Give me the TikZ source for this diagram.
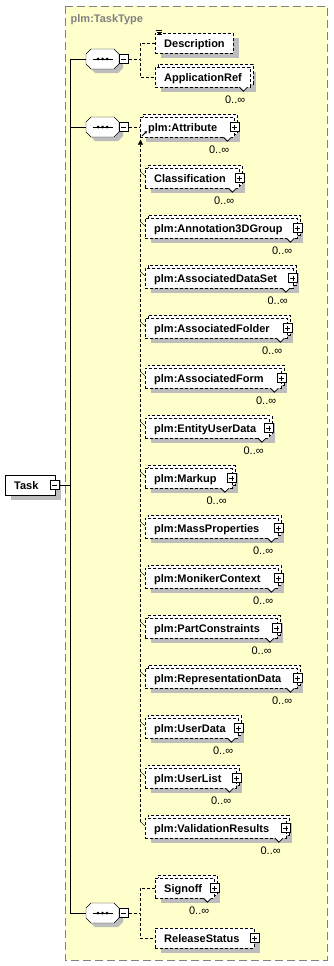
\documentclass[tikz,border=0pt]{standalone}
\usepackage{fontspec}
\setmainfont{Liberation Sans}
\usetikzlibrary{shadows, arrows.meta}
\definecolor{typeyellow}{HTML}{FFFFCC}
\definecolor{shadowgray}{HTML}{BDBDBD}
\definecolor{framegray}{HTML}{808080}
\newcommand{\elemfont}{\fontsize{11}{13}\selectfont\bfseries}
\hyphenpenalty=10000
\exhyphenpenalty=10000
\pgfdeclarelayer{bg}
\pgfdeclarelayer{shadows}
\pgfsetlayers{bg,shadows,main}

\begin{document}
\begin{tikzpicture}[
    x=1pt, y=-1pt, line width=1pt,
    elem/.style={draw, fill=white, dash pattern=on 3pt off 2pt, anchor=west, minimum height=20pt,
        inner xsep=9pt, inner ysep=0pt, text height=9pt, text depth=0pt, align=left, font=\elemfont},
    many/.style={copy shadow={shadow xshift=3pt, shadow yshift=3pt, draw=black, fill=white, dash pattern=on 3pt off 2pt}},
    taskbox/.style={draw, fill=white, anchor=west, minimum height=20pt, inner xsep=9pt, inner ysep=0pt,
        text height=9pt, text depth=0pt, align=left, font=\elemfont},
    seq/.style={rectangle, minimum width=33pt, minimum height=20pt, inner sep=0pt},
    minusbox/.style={draw, solid, fill=white, minimum size=9pt, inner sep=0pt,
        path picture={\draw ([xshift=2pt]path picture bounding box.west) -- ([xshift=-2pt]path picture bounding box.east);}},
    plusbox/.style={draw, solid, fill=white, minimum size=9pt, inner sep=0pt,
        path picture={
            \draw ([xshift=2pt]path picture bounding box.west) -- ([xshift=-2pt]path picture bounding box.east);
            \draw ([yshift=2pt]path picture bounding box.south) -- ([yshift=-2pt]path picture bounding box.north);}},
    mult/.style={font=\fontsize{11}{13}\selectfont, anchor=east, inner sep=0pt, text height=7pt, text depth=0pt},
    notch/.style={draw, fill=white, line width=0.8pt},
    link/.style={dash pattern=on 3pt off 2pt},
    typebox/.style={draw=framegray, fill=typeyellow, dash pattern=on 8pt off 4pt},
    title/.style={font=\elemfont, text=framegray, anchor=base west, inner sep=0pt}
]
\useasboundingbox (0,0) rectangle (333,966);

% complex type frame
\begin{pgfonlayer}{bg}
\draw[typebox] (65,6) rectangle (327,960);
\end{pgfonlayer}
\node[title] (typename) at (70.5,23) {plm:TaskType};

% root element
\node[taskbox, text width=31.5pt] (task) at (5,485) {Task};
\node[minusbox] (task-minus) at (task.east) {};

% compositors
\node[seq] (seq1) at (102.5,59) {};
\node[seq] (seq2) at (102.5,127) {};
\node[seq] (seq3) at (102.5,913) {};
\foreach \s in {seq1, seq2, seq3} {
    \begin{pgfonlayer}{shadows}
    \fill[shadowgray, shift={(\s.center)}, shift={(4,4)}]
        (-11.5,-10) -- (11.5,-10) -- (16.5,-5) -- (16.5,5) -- (11.5,10) -- (-11.5,10) -- (-16.5,5) -- (-16.5,-5) -- cycle;
    \end{pgfonlayer}
    \draw[fill=white, shift={(\s.center)}]
        (-11.5,-10) -- (11.5,-10) -- (16.5,-5) -- (16.5,5) -- (11.5,10) -- (-11.5,10) -- (-16.5,5) -- (-16.5,-5) -- cycle;
    \draw[shift={(\s.center)}] (-10,0) -- (10,0);
    \foreach \d in {-4.5,0,4.5} \fill[shift={(\s.center)}] (\d,0) circle[radius=1.5];
    \node[minusbox, anchor=west] (\s-minus) at (\s.east) {};
}

% first sequence
\node[elem, text width=60pt] (desc) at (155,43) {Description};
\node[elem, many, text width=77pt] (appref) at (155,77) {ApplicationRef};

% substitution group
\node[elem, many, inner xsep=8pt, text width=78pt] (attr) at (140,127) {plm:Attribute};
\node[elem, many, text width=76pt] (classif) at (145,178) {Classification};
\node[elem, many, text width=134pt] (anno) at (145,228) {plm:Annotation3DGroup};
\node[elem, many, text width=129.5pt] (dataset) at (145,278) {plm:AssociatedDataSet};
\node[elem, many, text width=124pt] (folder) at (145,328) {plm:AssociatedFolder};
\node[elem, many, text width=118pt] (form) at (145,378) {plm:AssociatedForm};
\node[elem, many, text width=105.5pt] (entity) at (145,428) {plm:EntityUserData};
\node[elem, many, text width=68.5pt] (markup) at (145,478) {plm:Markup};
\node[elem, many, text width=115pt] (mass) at (145,528) {plm:MassProperties};
\node[elem, many, text width=115pt] (moniker) at (145,578) {plm:MonikerContext};
\node[elem, many, text width=113.5pt] (partc) at (145,628) {plm:PartConstraints};
\node[elem, many, text width=134pt] (repr) at (145,678) {plm:RepresentationData};
\node[elem, many, text width=75pt] (userdata) at (145,728) {plm:UserData};
\node[elem, many, text width=73pt] (userlist) at (145,778) {plm:UserList};
\node[elem, many, text width=122.5pt] (valid) at (145,828) {plm:ValidationResults};

% last sequence
\node[elem, many, text width=41pt] (signoff) at (155,888) {Signoff};
\node[elem, text width=81pt] (release) at (155,938) {ReleaseStatus};

% drop shadows
\begin{pgfonlayer}{shadows}
\foreach \n in {task, desc, appref, attr, classif, anno, dataset, folder, form, entity, markup, mass,
                moniker, partc, repr, userdata, userlist, valid, signoff, release}
    \fill[shadowgray] ([xshift=6pt, yshift=-5pt]\n.north west) rectangle ([xshift=6pt, yshift=-5pt]\n.south east);
\end{pgfonlayer}

% occurrence marks
\foreach \n in {appref, attr, classif, anno, dataset, folder, form, entity, markup, mass,
                moniker, partc, repr, userdata, userlist, valid, signoff} {
    \draw[notch] ([xshift=-11pt]\n.south east) -- ++(4,4) -- ++(4,-4);
    \node[mult] (\n-mult) at ([xshift=-5pt, yshift=-13pt]\n.south east) {0..∞};
}
\foreach \n in {attr, classif, anno, dataset, folder, form, entity, markup, mass,
                moniker, partc, repr, userdata, userlist, valid, signoff, release}
    \node[plusbox] (\n-plus) at (\n.east) {};

% icons
\draw[line width=0.8pt] (155.5,30.5) -- ++(6,0) (156.5,32.5) -- ++(5,0) (156.5,34.5) -- ++(5,0);
\draw[-{Stealth[length=3pt, width=3pt]}, line width=0.8pt] (142,136) -- (147,131);

% connectors
\coordinate (spine) at (70.5,485);
\draw (task-minus.east) -- (spine);
\draw (seq1.west) -| (spine) |- (seq3.west);
\draw (seq2.west) -- (seq2.west -| spine);

\coordinate (fork1) at (140,59);
\draw[link] (seq1-minus.east) -- (fork1);
\draw[link] (desc.west) -| (fork1) |- (appref.west);

\draw[link] (seq2-minus.east) -- (attr.west);
\coordinate (head) at ([xshift=0.5pt, yshift=-2.5pt]attr.south west);
\draw[link, -{Triangle[width=5pt, length=5pt]}] ([xshift=-4.5pt, yshift=-4pt]valid.north west) -- (head);
\foreach \n in {classif, anno, dataset, folder, form, entity, markup, mass,
                moniker, partc, repr, userdata, userlist, valid}
    \draw ([xshift=-4.5pt, yshift=-4pt]\n.north west) -- ([yshift=-8pt]\n.north west);

\coordinate (fork3) at (140,913);
\draw[link] (seq3-minus.east) -- (fork3);
\draw[link] (signoff.west) -| (fork3) |- (release.west);
\end{tikzpicture}
\end{document}
